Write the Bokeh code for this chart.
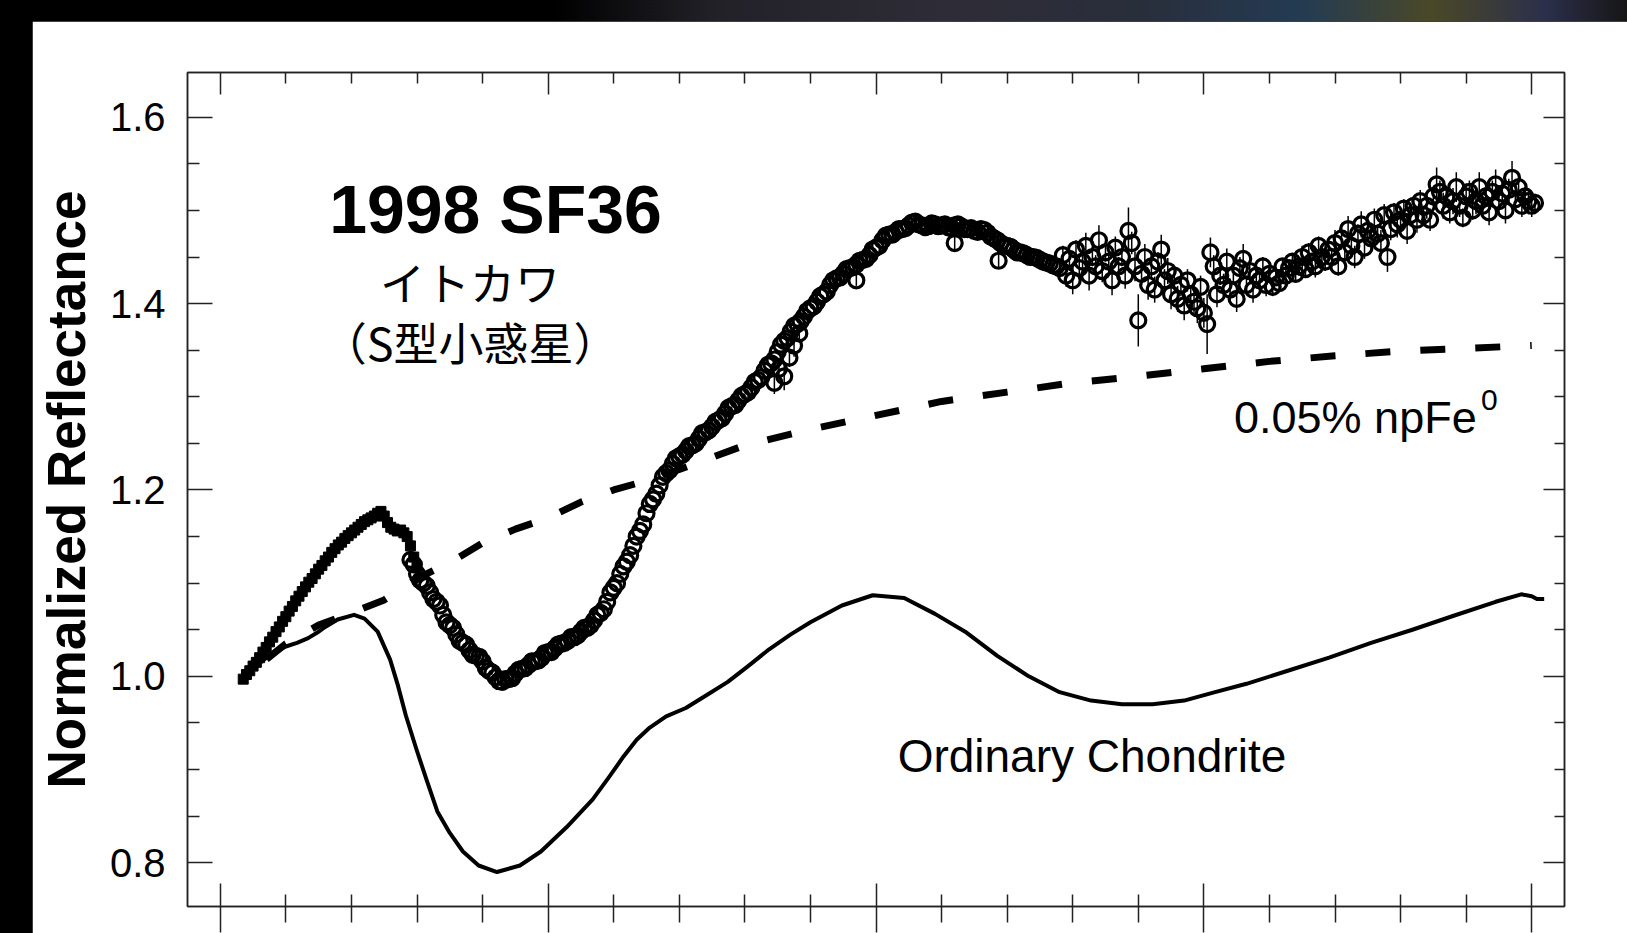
from bokeh.plotting import figure
from bokeh.models import (FixedTicker, PrintfTickFormatter, LinearAxis, Label,
                          Range1d, ColumnDataSource)
from bokeh.layouts import column
from bokeh.embed import file_html
from bokeh.resources import INLINE

# ---------------- data ----------------
# Visible spectrum of 1998 SF36 (filled squares)
vis_wl = [0.535, 0.540, 0.545, 0.550, 0.555, 0.560, 0.565, 0.570, 0.575, 0.580,
          0.585, 0.590, 0.595, 0.600, 0.605, 0.610, 0.615, 0.620, 0.625, 0.630,
          0.635, 0.640, 0.645, 0.650, 0.655, 0.660, 0.665, 0.670, 0.675, 0.680,
          0.685, 0.690, 0.695, 0.700, 0.705, 0.710, 0.715, 0.720, 0.725, 0.730,
          0.735, 0.740, 0.745, 0.750, 0.755, 0.760, 0.765, 0.770, 0.775, 0.780,
          0.785, 0.790, 0.795, 0.800]
vis_refl = [0.997, 1.002, 1.006, 1.011, 1.015, 1.020, 1.026, 1.031, 1.037, 1.042,
            1.048, 1.053, 1.059, 1.064, 1.070, 1.075, 1.081, 1.086, 1.091, 1.096,
            1.101, 1.105, 1.110, 1.115, 1.119, 1.124, 1.128, 1.133, 1.137, 1.141,
            1.144, 1.148, 1.151, 1.154, 1.157, 1.160, 1.163, 1.166, 1.168, 1.170,
            1.172, 1.175, 1.177, 1.172, 1.165, 1.160, 1.158, 1.156, 1.157, 1.154,
            1.150, 1.140, 1.128, 1.118]

# Near-IR spectrum, bright part (open circles)
nir_wl_a = [0.79, 0.80, 0.81, 0.82, 0.83, 0.84, 0.85, 0.86, 0.87, 0.88,
            0.89, 0.90, 0.91, 0.92, 0.93, 0.94, 0.95, 0.96, 0.97, 0.98,
            0.99, 1.00, 1.01, 1.02, 1.03, 1.04, 1.05, 1.06, 1.07, 1.08,
            1.09, 1.10, 1.11, 1.12, 1.13, 1.14, 1.15, 1.16, 1.17, 1.18,
            1.19, 1.20, 1.21, 1.22, 1.23, 1.24, 1.25, 1.26, 1.27, 1.28,
            1.29, 1.30, 1.31, 1.32, 1.33, 1.34, 1.35, 1.36, 1.37, 1.38,
            1.39, 1.40, 1.41, 1.42, 1.43, 1.44, 1.45, 1.46, 1.47, 1.48,
            1.49, 1.50, 1.51, 1.52, 1.53, 1.54, 1.55, 1.56, 1.57, 1.58,
            1.59, 1.60, 1.61, 1.62, 1.63, 1.64, 1.65, 1.66, 1.67, 1.68,
            1.69, 1.70, 1.71, 1.72, 1.73, 1.74, 1.75, 1.76, 1.77, 1.78]
nir_refl_a = [1.125, 1.110, 1.100, 1.090, 1.080, 1.066, 1.055, 1.045, 1.036, 1.028,
              1.022, 1.016, 1.006, 0.999, 0.994, 0.997, 1.003, 1.008, 1.012, 1.016,
              1.020, 1.026, 1.030, 1.035, 1.038, 1.042, 1.048, 1.052, 1.060, 1.068,
              1.080, 1.095, 1.110, 1.123, 1.140, 1.156, 1.175, 1.190, 1.205, 1.218,
              1.228, 1.236, 1.242, 1.248, 1.255, 1.262, 1.268, 1.275, 1.282, 1.290,
              1.296, 1.303, 1.310, 1.318, 1.328, 1.336, 1.348, 1.360, 1.370, 1.378,
              1.386, 1.395, 1.402, 1.410, 1.420, 1.427, 1.432, 1.438, 1.442, 1.447,
              1.452, 1.460, 1.468, 1.474, 1.477, 1.480, 1.484, 1.488, 1.484, 1.483,
              1.485, 1.484, 1.482, 1.484, 1.483, 1.480, 1.478, 1.480, 1.476, 1.470,
              1.465, 1.462, 1.458, 1.455, 1.452, 1.450, 1.447, 1.444, 1.441, 1.438]
# interleaved samples of the bright part
nir_wl_a2 = [0.795, 0.805, 0.815, 0.825, 0.835, 0.845, 0.855, 0.865, 0.875, 0.885,
             0.895, 0.905, 0.915, 0.925, 0.935, 0.945, 0.955, 0.965, 0.975, 0.985,
             0.995, 1.005, 1.015, 1.025, 1.035, 1.045, 1.055, 1.065, 1.075, 1.085,
             1.095, 1.105, 1.115, 1.125, 1.135, 1.145, 1.155, 1.165, 1.175, 1.185,
             1.195, 1.205, 1.215, 1.225, 1.235, 1.245, 1.255, 1.265, 1.275, 1.285,
             1.295, 1.305, 1.315, 1.325, 1.335, 1.345, 1.355, 1.365, 1.375, 1.385,
             1.395, 1.405, 1.415, 1.425, 1.435, 1.445, 1.455, 1.465, 1.475, 1.485,
             1.495, 1.505, 1.515, 1.525, 1.535, 1.545, 1.555, 1.565, 1.575, 1.585,
             1.595, 1.605, 1.615, 1.625, 1.635, 1.645, 1.655, 1.665, 1.675, 1.685,
             1.695, 1.705, 1.715, 1.725, 1.735, 1.745, 1.755, 1.765, 1.775]
nir_refl_a2 = [1.120, 1.103, 1.097, 1.083, 1.076, 1.058, 1.052, 1.038, 1.034, 1.023,
               1.021, 1.009, 1.004, 0.995, 0.997, 0.998, 1.007, 1.009, 1.016, 1.017,
               1.025, 1.026, 1.034, 1.036, 1.042, 1.044, 1.052, 1.055, 1.066, 1.072,
               1.090, 1.100, 1.118, 1.130, 1.150, 1.163, 1.185, 1.196, 1.214, 1.221,
               1.234, 1.238, 1.247, 1.250, 1.261, 1.264, 1.273, 1.277, 1.288, 1.291,
               1.301, 1.305, 1.316, 1.321, 1.334, 1.340, 1.356, 1.363, 1.376, 1.381,
               1.392, 1.397, 1.408, 1.413, 1.425, 1.428, 1.437, 1.439, 1.446, 1.448,
               1.458, 1.462, 1.473, 1.474, 1.480, 1.481, 1.487, 1.485, 1.482, 1.486,
               1.483, 1.485, 1.481, 1.485, 1.480, 1.481, 1.477, 1.479, 1.472, 1.468,
               1.462, 1.461, 1.455, 1.454, 1.450, 1.449, 1.445, 1.443, 1.440]

# Near-IR spectrum, noisy part (open circles with error bars)
nir_wl_b = [1.785, 1.790, 1.795, 1.800, 1.805, 1.810, 1.815, 1.820, 1.825, 1.830,
            1.835, 1.840, 1.845, 1.850, 1.855, 1.860, 1.865, 1.870, 1.875, 1.880,
            1.885, 1.890, 1.895, 1.900, 1.905, 1.910, 1.915, 1.920, 1.925, 1.930,
            1.935, 1.940, 1.945, 1.950, 1.955, 1.960, 1.965, 1.970, 1.975, 1.980,
            1.985, 1.990, 1.995, 2.000, 2.005, 2.010, 2.015, 2.020, 2.025, 2.030,
            2.035, 2.040, 2.045, 2.050, 2.055, 2.060, 2.065, 2.070, 2.075, 2.080,
            2.085, 2.090, 2.095, 2.100, 2.105, 2.110, 2.115, 2.120, 2.125, 2.130,
            2.135, 2.140, 2.145, 2.150, 2.155, 2.160, 2.165, 2.170, 2.175, 2.180,
            2.185, 2.190, 2.195, 2.200, 2.205, 2.210, 2.215, 2.220, 2.225, 2.230,
            2.235, 2.240, 2.245, 2.250, 2.255, 2.260, 2.265, 2.270, 2.275, 2.280,
            2.285, 2.290, 2.295, 2.300, 2.305, 2.310, 2.315, 2.320, 2.325, 2.330,
            2.335, 2.340, 2.345, 2.350, 2.355, 2.360, 2.365, 2.370, 2.375, 2.380,
            2.385, 2.390, 2.395, 2.400, 2.405, 2.410, 2.415, 2.420, 2.425, 2.430,
            2.435, 2.440, 2.445, 2.450, 2.455, 2.460, 2.465, 2.470, 2.475, 2.480,
            2.485, 2.490, 2.495, 2.500, 2.505]
nir_refl_b = [1.452, 1.430, 1.448, 1.425, 1.458, 1.438, 1.445, 1.462, 1.430, 1.450,
              1.440, 1.468, 1.435, 1.455, 1.445, 1.425, 1.460, 1.440, 1.450, 1.430,
              1.478, 1.465, 1.440, 1.382, 1.432, 1.450, 1.420, 1.440, 1.415, 1.445,
              1.458, 1.425, 1.435, 1.410, 1.430, 1.405, 1.420, 1.398, 1.425, 1.410,
              1.402, 1.395, 1.418, 1.390, 1.378, 1.455, 1.440, 1.410, 1.430, 1.420,
              1.445, 1.415, 1.430, 1.405, 1.438, 1.448, 1.420, 1.435, 1.415, 1.430,
              1.425, 1.440, 1.420, 1.432, 1.418, 1.428, 1.422, 1.440, 1.430, 1.438,
              1.445, 1.432, 1.440, 1.450, 1.437, 1.455, 1.445, 1.440, 1.462, 1.450,
              1.445, 1.458, 1.450, 1.465, 1.440, 1.470, 1.455, 1.480, 1.462, 1.450,
              1.475, 1.485, 1.460, 1.478, 1.470, 1.490, 1.475, 1.465, 1.495, 1.450,
              1.480, 1.498, 1.485, 1.490, 1.502, 1.478, 1.495, 1.505, 1.490, 1.510,
              1.495, 1.505, 1.490, 1.515, 1.528, 1.520, 1.505, 1.515, 1.498, 1.510,
              1.525, 1.505, 1.492, 1.515, 1.520, 1.500, 1.510, 1.525, 1.505, 1.515,
              1.498, 1.520, 1.528, 1.510, 1.518, 1.500, 1.522, 1.535, 1.512, 1.525,
              1.505, 1.515, 1.510, 1.505, 1.508]
nir_err_b = [0.010, 0.012, 0.010, 0.015, 0.010, 0.012, 0.010, 0.014, 0.016, 0.010,
             0.012, 0.016, 0.012, 0.010, 0.014, 0.016, 0.012, 0.010, 0.010, 0.014,
             0.025, 0.012, 0.016, 0.028, 0.012, 0.014, 0.016, 0.012, 0.014, 0.010,
             0.016, 0.012, 0.014, 0.016, 0.010, 0.014, 0.012, 0.016, 0.012, 0.010,
             0.014, 0.016, 0.012, 0.016, 0.032, 0.016, 0.012, 0.014, 0.010, 0.012,
             0.014, 0.012, 0.010, 0.014, 0.012, 0.016, 0.010, 0.012, 0.014, 0.010,
             0.008, 0.010, 0.012, 0.008, 0.010, 0.008, 0.008, 0.008, 0.010, 0.008,
             0.008, 0.008, 0.010, 0.012, 0.008, 0.010, 0.008, 0.012, 0.010, 0.008,
             0.010, 0.012, 0.008, 0.014, 0.010, 0.012, 0.008, 0.014, 0.010, 0.012,
             0.010, 0.014, 0.012, 0.010, 0.014, 0.012, 0.010, 0.014, 0.012, 0.016,
             0.012, 0.010, 0.014, 0.012, 0.010, 0.014, 0.012, 0.010, 0.014, 0.012,
             0.010, 0.014, 0.012, 0.010, 0.018, 0.012, 0.014, 0.010, 0.012, 0.014,
             0.016, 0.012, 0.010, 0.014, 0.012, 0.010, 0.014, 0.016, 0.012, 0.010,
             0.014, 0.012, 0.016, 0.010, 0.012, 0.014, 0.012, 0.018, 0.010, 0.014,
             0.012, 0.010, 0.014, 0.012, 0.010]

# A few scattered near-IR points lying off the main band
nir_wl_c = [1.345, 1.352, 1.360, 1.368, 1.375, 1.383, 1.470, 1.620, 1.687]
nir_refl_c = [1.315, 1.330, 1.322, 1.342, 1.355, 1.368, 1.425, 1.465, 1.446]
nir_err_c = [0.012, 0.010, 0.015, 0.010, 0.012, 0.010, 0.006, 0.008, 0.008]

# Ordinary chondrite laboratory spectrum (solid line)
chon_wl = [0.533, 0.550, 0.565, 0.582, 0.600, 0.617, 0.634, 0.648, 0.660, 0.679,
           0.704, 0.720, 0.740, 0.759, 0.771, 0.783, 0.799, 0.815, 0.831, 0.850,
           0.870, 0.894, 0.922, 0.957, 0.989, 1.028, 1.068, 1.092, 1.115, 1.135,
           1.155, 1.180, 1.210, 1.242, 1.274, 1.305, 1.337, 1.370, 1.400, 1.448,
           1.495, 1.543, 1.590, 1.638, 1.685, 1.733, 1.780, 1.828, 1.875, 1.922,
           1.970, 2.017, 2.065, 2.128, 2.191, 2.255, 2.318, 2.381, 2.445, 2.484,
           2.500, 2.508, 2.519]
chon_refl = [0.997, 1.008, 1.017, 1.026, 1.032, 1.036, 1.041, 1.047, 1.053, 1.061,
             1.066, 1.062, 1.048, 1.018, 0.990, 0.958, 0.922, 0.888, 0.855, 0.832,
             0.812, 0.797, 0.790, 0.797, 0.812, 0.838, 0.868, 0.891, 0.914, 0.932,
             0.945, 0.957, 0.966, 0.980, 0.994, 1.011, 1.029, 1.045, 1.058, 1.076,
             1.087, 1.084, 1.067, 1.047, 1.022, 1.000, 0.983, 0.974, 0.970, 0.970,
             0.974, 0.983, 0.992, 1.006, 1.020, 1.036, 1.050, 1.065, 1.080, 1.088,
             1.086, 1.083, 1.083]

# Space-weathering model, 0.05% npFe0 (dashed line)
model_wl = [0.535, 0.600, 0.650, 0.700, 0.750, 0.800, 0.850, 0.900, 0.950, 1.000,
            1.050, 1.100, 1.150, 1.200, 1.250, 1.300, 1.400, 1.500, 1.600, 1.700,
            1.800, 1.900, 2.000, 2.100, 2.200, 2.300, 2.400, 2.500]
model_refl = [0.998, 1.035, 1.055, 1.068, 1.082, 1.105, 1.122, 1.143, 1.158, 1.170,
              1.187, 1.200, 1.210, 1.222, 1.235, 1.248, 1.265, 1.280, 1.295, 1.305,
              1.315, 1.322, 1.330, 1.338, 1.344, 1.349, 1.352, 1.355]

# Axis ticks
y_major = [0.8, 1.0, 1.2, 1.4, 1.6]
y_minor = [0.75, 0.85, 0.9, 0.95, 1.05, 1.1, 1.15, 1.25, 1.3, 1.35, 1.45, 1.5, 1.55, 1.65]
x_major = [0.5, 1.0, 1.5, 2.0, 2.5]
x_minor = [0.6, 0.7, 0.8, 0.9, 1.1, 1.2, 1.3, 1.4, 1.6, 1.7, 1.8, 1.9,
           2.1, 2.2, 2.3, 2.4]

title_text = "1998 SF36"
jp_name = "イトカワ"
jp_type = "（S型小惑星）"
model_label = "0.05% npFe"
chon_label = "Ordinary Chondrite"
y_title = "Normalized Reflectance"

# ---------------- figure ----------------
FONT = "Liberation Sans"
p = figure(width=1595, height=912, output_backend="svg", toolbar_location=None,
           x_range=Range1d(0.45, 2.55), y_range=Range1d(0.753, 1.648),
           min_border_left=155, min_border_right=63, min_border_top=51,
           min_border_bottom=27, background_fill_color="white",
           border_fill_color="white", outline_line_color="#222222",
           outline_line_width=1.5)
p.margin = (21, 0, 0, 32)
p.xgrid.visible = False
p.ygrid.visible = False

AX = "#222222"
# left axis
ya = p.yaxis[0]
ya.ticker = FixedTicker(ticks=y_major, minor_ticks=y_minor)
ya.formatter = PrintfTickFormatter(format="%.1f")
ya.major_tick_in = 25
ya.major_tick_out = 0
ya.minor_tick_in = 12
ya.minor_tick_out = 0
ya.major_tick_line_width = 1.5
ya.minor_tick_line_width = 1.5
ya.major_tick_line_color = AX
ya.minor_tick_line_color = AX
ya.axis_line_color = AX
ya.axis_line_width = 1.5
ya.major_label_text_font = FONT
ya.major_label_text_font_size = "40px"
ya.major_label_text_color = "black"
ya.major_label_standoff = 22
ya.axis_label = y_title
ya.axis_label_text_font = FONT
ya.axis_label_text_font_style = "bold"
ya.axis_label_text_font_size = "53px"
ya.axis_label_text_color = "black"
ya.axis_label_standoff = 11

# bottom axis (ticks crossing the line, labels cut off)
xa = p.xaxis[0]
xa.ticker = FixedTicker(ticks=x_major, minor_ticks=x_minor)
xa.major_tick_in = 23
xa.major_tick_out = 26
xa.minor_tick_in = 12
xa.minor_tick_out = 16
xa.major_tick_line_width = 1.5
xa.minor_tick_line_width = 1.5
xa.major_tick_line_color = AX
xa.minor_tick_line_color = AX
xa.axis_line_color = AX
xa.axis_line_width = 1.5
xa.major_label_text_color = None
xa.major_label_text_font_size = "0px"
xa.major_label_standoff = 0

# top axis
ta = LinearAxis(ticker=FixedTicker(ticks=x_major, minor_ticks=x_minor),
                major_tick_in=22, major_tick_out=0, minor_tick_in=11, minor_tick_out=0,
                major_tick_line_width=1.5, minor_tick_line_width=1.5,
                major_tick_line_color=AX, minor_tick_line_color=AX,
                axis_line_color=AX, axis_line_width=1.5,
                major_label_text_color=None, major_label_text_font_size="0px",
                major_label_standoff=0)
p.add_layout(ta, "above")

# right axis
ra = LinearAxis(ticker=FixedTicker(ticks=y_major, minor_ticks=y_minor),
                major_tick_in=21, major_tick_out=0, minor_tick_in=10, minor_tick_out=0,
                major_tick_line_width=1.5, minor_tick_line_width=1.5,
                major_tick_line_color=AX, minor_tick_line_color=AX,
                axis_line_color=AX, axis_line_width=1.5,
                major_label_text_color=None, major_label_text_font_size="0px",
                major_label_standoff=0)
p.add_layout(ra, "right")

# ---------------- glyphs ----------------
p.line(chon_wl, chon_refl, line_color="black", line_width=4, line_join="round")
p.line(model_wl, model_refl, line_color="black", line_width=7, line_dash="25 30",
       line_dash_offset=-30)

src_b = ColumnDataSource(dict(x=nir_wl_b, y=nir_refl_b,
                              lo=[y - e for y, e in zip(nir_refl_b, nir_err_b)],
                              hi=[y + e for y, e in zip(nir_refl_b, nir_err_b)]))
src_c = ColumnDataSource(dict(x=nir_wl_c, y=nir_refl_c,
                              lo=[y - e for y, e in zip(nir_refl_c, nir_err_c)],
                              hi=[y + e for y, e in zip(nir_refl_c, nir_err_c)]))
for s in (src_b, src_c):
    p.segment(x0="x", y0="lo", x1="x", y1="hi", source=s, line_color="black",
              line_width=1.5)

p.scatter(vis_wl, vis_refl, marker="square", size=10, fill_color="black",
          line_color="black")
circ = dict(marker="circle", size=15, fill_color=None, line_color="black",
            line_width=3.2)
p.scatter(nir_wl_a, nir_refl_a, **circ)
p.scatter(nir_wl_a2, nir_refl_a2, **circ)
p.scatter("x", "y", source=src_b, **circ)
p.scatter("x", "y", source=src_c, **circ)

# ---------------- annotations ----------------
p.add_layout(Label(x=0.666, y=1.502, text=title_text, text_font=FONT,
                   text_font_style="bold", text_font_size="68px",
                   text_color="black", text_baseline="alphabetic"))
p.add_layout(Label(x=0.881, y=1.4237, text=jp_name, text_font="Noto Sans CJK JP",
                   text_font_size="45px", text_color="black",
                   text_align="center", text_baseline="middle"))
p.add_layout(Label(x=0.881, y=1.3588, text=jp_type, text_font="Noto Sans CJK JP",
                   text_font_size="45px", text_color="black",
                   text_align="center", text_baseline="middle"))
p.add_layout(Label(x=2.046, y=1.278, text=model_label, text_font=FONT,
                   text_font_size="45px", text_color="black",
                   text_baseline="alphabetic"))
p.add_layout(Label(x=2.046, y=1.278, x_offset=247, y_offset=17, text="0",
                   text_font=FONT, text_font_size="30px", text_color="black",
                   text_baseline="alphabetic"))
p.add_layout(Label(x=1.533, y=0.915, text=chon_label, text_font=FONT,
                   text_font_size="46px", text_color="black",
                   text_baseline="alphabetic"))

page = column(p, width=1627, height=933, styles={
    "background": ("linear-gradient(to right, #000 0%, #000 34%, #222128 44%, "
                   "#2e2c36 58%, #292e3b 70%, #243b52 80%, #4a4828 88%, "
                   "#2b2f4a 95%, #161616 100%) top left / 100% 21px no-repeat, #000")})
open("out.html", "w").write(file_html(page, INLINE))
